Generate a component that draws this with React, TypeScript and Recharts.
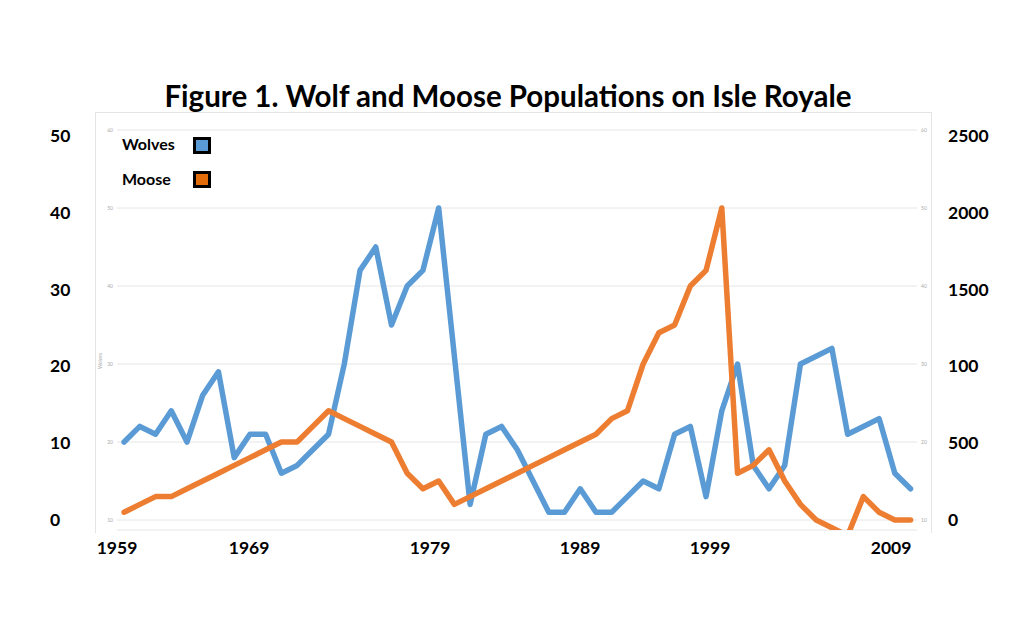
import { LineChart, Line, XAxis, YAxis, CartesianGrid } from 'recharts';

const years = [
  1959, 1960, 1961, 1962, 1963, 1964, 1965, 1966, 1967, 1968,
  1969, 1970, 1971, 1972, 1973, 1974, 1975, 1976, 1977, 1978,
  1979, 1980, 1981, 1982, 1983, 1984, 1985, 1986, 1987, 1988,
  1989, 1990, 1991, 1992, 1993, 1994, 1995, 1996, 1997, 1998,
  1999, 2000, 2001, 2002, 2003, 2004, 2005, 2006, 2007, 2008, 2009,
];

// values as plotted against the left (wolves) axis
const wolves = [
  10, 12, 11, 14, 10, 16, 19, 8, 11, 11,
  6, 7, 9, 11, 20, 32, 35, 25, 30, 32,
  40, 21, 2, 11, 12, 9, 5, 1, 1, 4,
  1, 1, 3, 5, 4, 11, 12, 3, 14, 20,
  7, 4, 7, 20, 21, 22, 11, 12, 13, 6, 4,
];

// values as plotted against the right (moose) axis
const moose = [
  50, 100, 150, 150, 200, 250, 300, 350, 400, 450,
  500, 500, 600, 700, 650, 600, 550, 500, 300, 200,
  250, 100, 150, 200, 250, 300, 350, 400, 450, 500,
  550, 650, 700, 1000, 1200, 1250, 1500, 1600, 2000, 300,
  350, 450, 250, 100, 0, -50, -100, 150, 50, 0, 0,
];

// x labels sit where they were pasted on the figure, not on exact years
const xTickPos = [1958.55, 1966.95, 1978.45, 1987.99, 1996.25, 2007.76];
const xTickLabels = ['1959', '1969', '1979', '1989', '1999', '2009'];

const wolfTicks = [0, 10, 20, 30, 40, 50];
const mooseTicks = [0, 500, 1000, 1500, 2000, 2500];
const mooseTickLabels = ['0', '500', '100', '1500', '2000', '2500'];

const BLUE = '#5B9BD5';
const ORANGE = '#ED7D31';
const FONT = 'Lato, "Open Sans", sans-serif';

const data = years.map((year, i) => ({ year, wolves: wolves[i], moose: moose[i] }));

function LeftTick({ y, payload }: any) {
  const v = payload.value as number;
  return (
    <g>
      <text x={50} y={y} dy={6 + v * 0.12} textAnchor="start" fontSize={17.5} fontWeight={700} fill="#000" fontFamily={FONT}>
        {v}
      </text>
      <text x={113} y={y} dy={2} textAnchor="end" fontSize={5} fill="#aaa" fontFamily={FONT}>
        {v + 10}
      </text>
    </g>
  );
}

function RightTick({ y, payload }: any) {
  const v = payload.value as number;
  const label = mooseTickLabels[mooseTicks.indexOf(v)];
  return (
    <g>
      <text x={921} y={y} dy={2} textAnchor="start" fontSize={5} fill="#aaa" fontFamily={FONT}>
        {v / 50 + 10}
      </text>
      <text x={948} y={y} dy={6 + v * 0.0024} textAnchor="start" fontSize={17.5} fontWeight={700} fill="#000" fontFamily={FONT}>
        {label}
      </text>
    </g>
  );
}

function BottomTick({ x, payload }: any) {
  const label = xTickLabels[xTickPos.indexOf(payload.value)];
  return (
    <text x={x} y={554} textAnchor="middle" fontSize={17.5} fontWeight={700} fill="#000" fontFamily={FONT}>
      {label}
    </text>
  );
}

const faint = '#e4e4e4';

export default function App() {
  return (
    <div style={{ position: 'absolute', left: 0, top: 0, width: 1024, height: 619, background: '#fff', fontFamily: FONT }}>
      {/* border of the pasted inner chart */}
      <div style={{ position: 'absolute', left: 95, top: 112, width: 835, height: 420, borderLeft: `1px solid ${faint}`, borderRight: `1px solid ${faint}`, borderTop: `1px solid ${faint}` }} />

      <LineChart width={1024} height={619} data={data} margin={{ top: 130, right: 0, bottom: 59, left: 0 }} style={{ position: 'absolute', left: 0, top: 0 }}>
        <CartesianGrid yAxisId="left" vertical={false} stroke="#e6e6e6" strokeWidth={1} />
        <XAxis
          dataKey="year"
          type="number"
          domain={[1958.55, 2009.41]}
          ticks={xTickPos}
          interval={0}
          allowDataOverflow
          axisLine={false}
          tickLine={false}
          tick={<BottomTick />}
          height={30}
        />
        <YAxis
          yAxisId="left"
          domain={[-1.28, 50]}
          ticks={wolfTicks}
          interval={0}
          allowDataOverflow
          axisLine={false}
          tickLine={false}
          tick={<LeftTick />}
          width={117}
        />
        <YAxis
          yAxisId="right"
          orientation="right"
          domain={[-64.1, 2500]}
          ticks={mooseTicks}
          interval={0}
          allowDataOverflow
          axisLine={false}
          tickLine={false}
          tick={<RightTick />}
          width={107}
        />
        <Line yAxisId="left" dataKey="wolves" stroke={BLUE} strokeWidth={5.5} dot={false} strokeLinejoin="round" strokeLinecap="round" isAnimationActive={false} />
        <Line yAxisId="right" dataKey="moose" stroke={ORANGE} strokeWidth={5.5} dot={false} strokeLinejoin="round" strokeLinecap="round" isAnimationActive={false} />
      </LineChart>

      {/* title on its white box */}
      <div style={{ position: 'absolute', left: 160, top: 60, width: 742, height: 52, background: '#fff' }} />
      <div style={{ position: 'absolute', left: 0, top: 80, width: 1016, textAlign: 'center', fontSize: 29.5, lineHeight: '32px', fontWeight: 700, color: '#000' }}>
        Figure 1. Wolf and Moose Populations on Isle Royale
      </div>

      {/* legend */}
      <div style={{ position: 'absolute', left: 122, top: 136, fontSize: 16, lineHeight: '16px', fontWeight: 700, color: '#000' }}>Wolves</div>
      <div style={{ position: 'absolute', left: 193, top: 137, width: 12, height: 11, border: '3px solid #000', background: BLUE }} />
      <div style={{ position: 'absolute', left: 122, top: 171, fontSize: 16, lineHeight: '16px', fontWeight: 700, color: '#000' }}>Moose</div>
      <div style={{ position: 'absolute', left: 193, top: 171, width: 12, height: 11, border: '3px solid #000', background: '#E26B0A' }} />

      {/* tiny axis title of the inner chart */}
      <div style={{ position: 'absolute', left: 92, top: 358, fontSize: 5, color: '#aaa', transform: 'rotate(-90deg)' }}>Wolves</div>
    </div>
  );
}
